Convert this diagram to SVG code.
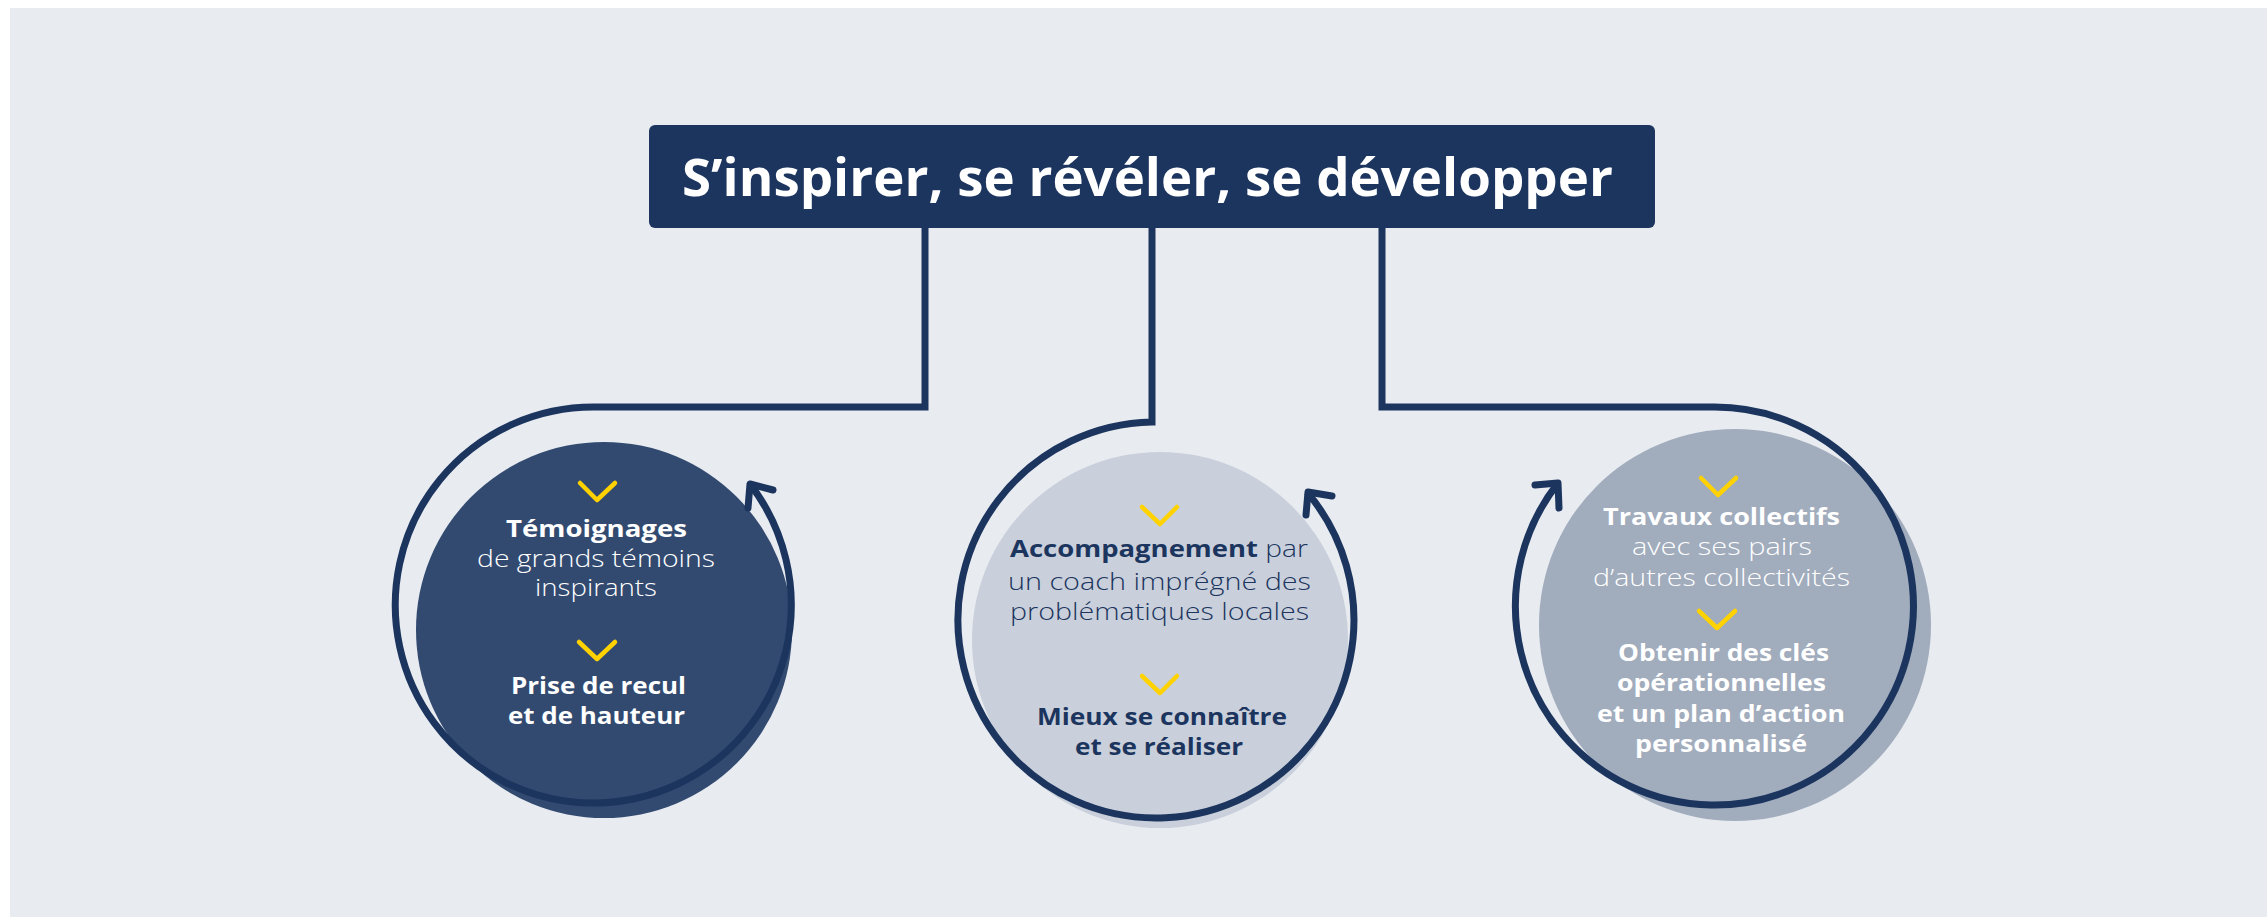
<svg xmlns="http://www.w3.org/2000/svg" width="2267" height="917" viewBox="0 0 2267 917">
<style>
.bg{fill:#E8EBF0}
.conn{fill:none;stroke:#1C355E;stroke-width:7;stroke-linejoin:miter}
.head{fill:none;stroke:#1C355E;stroke-width:7;stroke-linecap:round;stroke-linejoin:round}
.chev{fill:none;stroke:#FFD200;stroke-width:4.5;stroke-linecap:round;stroke-linejoin:round}
.t{font-family:"Open Sans","Liberation Sans",sans-serif;font-size:24px}
.b{font-weight:700}
.l{font-weight:300}
.w{fill:#FFFFFF}
.n{fill:#1C355E}
.title{font-family:"Open Sans","Liberation Sans",sans-serif;font-size:52px;font-weight:700;fill:#FFFFFF}
</style>
<rect x="0" y="0" width="2267" height="917" fill="#FFFFFF"/>
<rect class="bg" x="10" y="8" width="2257" height="909"/>

<g id="title">
<rect x="649" y="125" width="1006" height="103" rx="6" fill="#1C355E"/>
<text class="title" x="682" y="196" textLength="931" lengthAdjust="spacingAndGlyphs">S’inspirer, se révéler, se développer</text>
</g>

<g id="circle-fills">
<circle id="fill-1" cx="604" cy="630" r="188" fill="#324A70"/>
<circle id="fill-2" cx="1160" cy="640" r="188" fill="#C9D0DB"/>
<circle id="fill-3" cx="1735" cy="625" r="196" fill="#A1ACBD"/>
</g>

<g id="connectors">
<path class="conn" d="M925,228 V407 H595 A198,198 0 1 0 750,484"/>
<polyline class="head" points="773,490 750,484 748,508"/>
<path class="conn" d="M1152,228 V422 A198,198 0 1 0 1307,492"/>
<polyline class="head" points="1332,496 1308,492 1306,515"/>
<path class="conn" d="M1382,228 V407 H1714 A199,199 0 1 1 1558,483"/>
<polyline class="head" points="1535,485 1558,483 1559,508"/>
</g>

<g id="node-1">
<polyline class="chev" points="580,483 597,500 615,483"/>
<text class="t b w" x="506" y="537" textLength="181" lengthAdjust="spacingAndGlyphs">Témoignages</text>
<text class="t l w" x="477" y="567" textLength="238" lengthAdjust="spacingAndGlyphs">de grands témoins</text>
<text class="t l w" x="535" y="596" textLength="122" lengthAdjust="spacingAndGlyphs">inspirants</text>
<polyline class="chev" points="579,642 597,659 615,642"/>
<text class="t b w" x="511" y="694" textLength="175" lengthAdjust="spacingAndGlyphs">Prise de recul</text>
<text class="t b w" x="508" y="724" textLength="177" lengthAdjust="spacingAndGlyphs">et de hauteur</text>
</g>

<g id="node-2">
<polyline class="chev" points="1142,507 1160,524 1177,507"/>
<text class="t n" x="1010" y="557"><tspan class="b" textLength="248" lengthAdjust="spacingAndGlyphs">Accompagnement</tspan><tspan class="l" textLength="50" lengthAdjust="spacingAndGlyphs"> par</tspan></text>
<text class="t l n" x="1008" y="590" textLength="303" lengthAdjust="spacingAndGlyphs">un coach imprégné des</text>
<text class="t l n" x="1010" y="620" textLength="299" lengthAdjust="spacingAndGlyphs">problématiques locales</text>
<polyline class="chev" points="1142,676 1160,693 1177,676"/>
<text class="t b n" x="1037" y="725" textLength="250" lengthAdjust="spacingAndGlyphs">Mieux se connaître</text>
<text class="t b n" x="1075" y="755" textLength="168" lengthAdjust="spacingAndGlyphs">et se réaliser</text>
</g>

<g id="node-3">
<polyline class="chev" points="1701,478 1718,495 1736,478"/>
<text class="t b w" x="1603" y="525" textLength="237" lengthAdjust="spacingAndGlyphs">Travaux collectifs</text>
<text class="t l w" x="1632" y="555" textLength="180" lengthAdjust="spacingAndGlyphs">avec ses pairs</text>
<text class="t l w" x="1593" y="586" textLength="257" lengthAdjust="spacingAndGlyphs">d’autres collectivités</text>
<polyline class="chev" points="1699,611 1717,628 1735,611"/>
<text class="t b w" x="1618" y="661" textLength="211" lengthAdjust="spacingAndGlyphs">Obtenir des clés</text>
<text class="t b w" x="1617" y="691" textLength="209" lengthAdjust="spacingAndGlyphs">opérationnelles</text>
<text class="t b w" x="1597" y="722" textLength="248" lengthAdjust="spacingAndGlyphs">et un plan d’action</text>
<text class="t b w" x="1635" y="752" textLength="172" lengthAdjust="spacingAndGlyphs">personnalisé</text>
</g>
</svg>
